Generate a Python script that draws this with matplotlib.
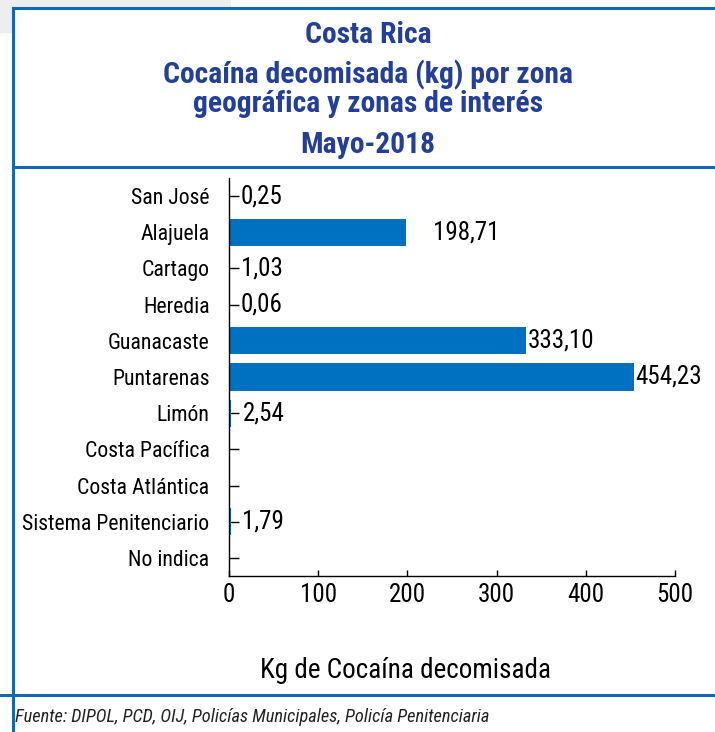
import numpy as np
from matplotlib import pyplot as plt
from matplotlib import font_manager
from matplotlib.patches import Rectangle
from matplotlib.lines import Line2D

# Data
zonas = ['San José', 'Alajuela', 'Cartago', 'Heredia', 'Guanacaste',
         'Puntarenas', 'Limón', 'Costa Pacífica', 'Costa Atlántica',
         'Sistema Penitenciario', 'No indica']
kg = [0.25, 198.71, 1.03, 0.06, 333.10, 454.23, 2.54, 0, 0, 1.79, 0]
etiquetas = ['0,25', '198,71', '1,03', '0,06', '333,10', '454,23', '2,54',
             '', '', '1,79', '']
x_ticks = [0, 100, 200, 300, 400, 500]

titulo = ['Costa Rica', 'Cocaína decomisada (kg) por zona',
          'geográfica y zonas de interés', 'Mayo-2018']
eje_x = 'Kg de Cocaína decomisada'
fuente = 'Fuente: DIPOL, PCD, OIJ, Policías Municipales, Policía Penitenciaria'

# Pick a narrow font if one is around
available = {f.name for f in font_manager.fontManager.ttflist}
family = 'Liberation Sans'
for name in ['Roboto Condensed', 'Liberation Sans Narrow', 'DejaVu Sans Condensed',
             'Open Sans Condensed']:
    if name in available:
        family = name
        break
plt.rcParams['font.family'] = [family, 'DejaVu Sans']

bar_color = '#0070c0'
frame_color = '#1269b0'
title_color = '#233f98'

W, H = 715, 732
fig = plt.figure(figsize=(W / 100, H / 100), dpi=100)

# Frame lines (figure pixel coords -> fraction)
def fx(px):
    return px / W

def fy(py):
    return 1 - py / H

fig.patches.append(Rectangle((0, fy(8)), fx(230), 8 / H, transform=fig.transFigure,
                             color='#eceeef', zorder=0))
fig.patches.append(Rectangle((0, fy(32)), fx(13), 24 / H, transform=fig.transFigure,
                             color='#eceeef', zorder=0))
for (x0, y0, x1, y1) in [(13, 8, 715, 8), (13, 8, 13, 732),
                         (13, 167, 715, 167), (0, 695, 715, 695)]:
    fig.add_artist(Line2D([fx(x0), fx(x1)], [fy(y0), fy(y1)], color=frame_color,
                          lw=2.2, transform=fig.transFigure))

# Titles
title_y = [35, 75, 104, 145]
for txt, py in zip(titulo, title_y):
    fig.text(fx(368), fy(py), txt, ha='center', va='center', color=title_color,
             fontsize=21.3, fontweight='bold')

# Bars
ax = fig.add_axes([fx(229), fy(576), fx(675) - fx(229), fy(178) - fy(576)])
ax.set_axisbelow(True)
y = np.arange(len(zonas))
ax.barh(y, kg, height=0.75, color=bar_color)
ax.set_ylim(len(zonas) - 0.5, -0.5)
ax.set_xlim(0, 500)
ax.set_yticks(y)
ax.set_yticklabels(zonas, fontsize=15.7)
ax.set_xticks(x_ticks)
ax.set_xticklabels([str(t) for t in x_ticks], fontsize=18)
ax.tick_params(axis='y', direction='in', length=7, width=1, pad=14)
ax.tick_params(axis='x', direction='in', length=4.5, width=1, pad=5)
for s in ['top', 'right']:
    ax.spines[s].set_visible(False)
for s in ['left', 'bottom']:
    ax.spines[s].set_linewidth(1)

for yi, v, lab in zip(y, kg, etiquetas):
    if not lab:
        continue
    if v < 20:
        off = 8
    elif v < 250:
        off = 19
    else:
        off = 1
    ax.annotate(lab, (v, yi), xytext=(off, 0), textcoords='offset points',
                ha='left', va='center', fontsize=18)

fig.text(fx(405), fy(670), eje_x, ha='center', va='center', fontsize=19.5)
fig.text(fx(15), fy(717), fuente, ha='left', va='center', fontsize=13.2,
         style='italic', color='#222222')

fig.savefig('out.png', dpi=100)
